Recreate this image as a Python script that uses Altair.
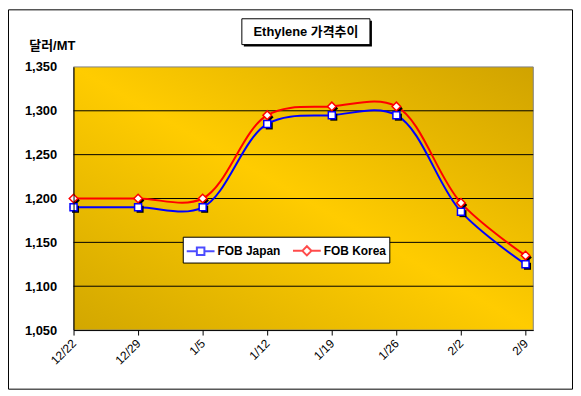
import json
import altair as alt
import pandas as pd

dates = ["12/22", "12/29", "1/5", "1/12", "1/19", "1/26", "2/2", "2/9"]
japan = [1190, 1190, 1190, 1285, 1295, 1295, 1185, 1125]
korea = [1200, 1200, 1200, 1295, 1305, 1305, 1195, 1135]
series = ["FOB Japan", "FOB Korea"]
colors = ["#0000FF", "#FF0000"]
y_ticks = [1050, 1100, 1150, 1200, 1250, 1300, 1350]
grid_vals = [1100, 1150, 1200, 1250, 1300]
title_text = "Ethylene 가격추이"
y_title = "달러/MT"

rows = []
for name, vals in zip(series, [japan, korea]):
    for i, v in enumerate(vals):
        rows.append({"idx": i, "date": dates[i], "series": name, "value": v})
df = pd.DataFrame(rows)

FONT = "Liberation Sans, Arial, Noto Sans CJK KR, sans-serif"

x_scale = alt.Scale(domain=[0, 7.12], nice=False, zero=False)
y_scale = alt.Scale(domain=[1050, 1350], nice=False, zero=False)

x_axis = alt.Axis(
    values=list(range(len(dates))),
    labelExpr=f"{json.dumps(dates)}[datum.value]",
    labelAngle=-45, labelAlign="right", labelBaseline="middle",
    labelPadding=6, labelFont=FONT, labelFontSize=12, labelColor="black",
    tickColor="black", tickSize=5, domainColor="black", grid=False,
    labelOverlap=False, zindex=1,
)
y_axis = alt.Axis(
    values=y_ticks, format=",.0f", ticks=False, labelPadding=17,
    labelFont=FONT, labelFontSize=13, labelFontWeight="bold", labelColor="black",
    domainColor="black", grid=False, zindex=1,
    title=y_title, titleAngle=0, titleX=-45, titleY=-18, titleAlign="left",
    titleBaseline="alphabetic", titleFont=FONT, titleFontSize=13,
    titleFontWeight="bold", titleColor="black",
)
x_enc = alt.X("idx:Q", scale=x_scale, axis=x_axis, title=None)
y_enc = alt.Y("value:Q", scale=y_scale, axis=y_axis, title=y_title)

tdf = pd.DataFrame({"t": [title_text]})

legend_paths = [
    "M-1.4,0H-0.38M0.38,0H1.4M-0.38,-0.38H0.38V0.38H-0.38Z",
    "M-1.4,0H-0.46M0.46,0H1.4M-0.46,0L0,-0.46L0.46,0L0,0.46Z",
]
leg = alt.Legend(
    title=None, orient="none", legendX=110, legendY=171, direction="horizontal",
    fillColor="white", strokeColor="black", padding=3, symbolSize=400,
    symbolOffset=4, labelOffset=6, columnPadding=8, symbolStrokeWidth=2,
    symbolFillColor="white", zindex=2,
    labelFont=FONT, labelFontSize=12, labelFontWeight="bold", labelColor="black",
)
# drawn first so the plot background hides its points; it only feeds the legend
legend_layer = (
    alt.Chart(df)
    .mark_point(filled=True, fill="white", strokeWidth=2)
    .encode(
        x=x_enc, y=y_enc,
        stroke=alt.Stroke("series:N", scale=alt.Scale(domain=series, range=colors), legend=leg),
        shape=alt.Shape("series:N", scale=alt.Scale(domain=series, range=legend_paths), legend=leg),
    )
)

gradient = {"gradient": "linear", "x1": 0, "y1": 1, "x2": 1, "y2": 0,
            "stops": [{"offset": 0, "color": "#D2A700"},
                      {"offset": 0.5, "color": "#FFCC00"},
                      {"offset": 1, "color": "#D0A300"}]}
bg = alt.Chart(tdf).mark_rect(fill=gradient, stroke="#808080", strokeWidth=1).encode(
    x=alt.value(0), x2=alt.value(463), y=alt.value(0), y2=alt.value(265))

grid = alt.Chart(pd.DataFrame({"value": grid_vals})).mark_rule(color="black", strokeWidth=1).encode(
    y=y_enc)

lines = alt.Chart(df).mark_line(interpolate="catmull-rom", strokeWidth=2).encode(
    x=x_enc, y=y_enc,
    color=alt.Color("series:N", scale=alt.Scale(domain=series, range=colors), legend=None),
    detail="series:N",
)

shapes = {"FOB Japan": ("square", 50), "FOB Korea": ("diamond", 75)}
layers = [legend_layer, bg, grid, lines]
for name, col in zip(series, colors):
    sh, sz = shapes[name]
    layers.append(
        alt.Chart(df).transform_filter(alt.datum.series == name)
        .mark_point(shape=sh, size=sz, filled=True, color="black", opacity=1, xOffset=2, yOffset=2)
        .encode(x=x_enc, y=y_enc)
    )
for name, col in zip(series, colors):
    sh, sz = shapes[name]
    layers.append(
        alt.Chart(df).transform_filter(alt.datum.series == name)
        .mark_point(shape=sh, size=sz, filled=True, fill="white", stroke=col, strokeWidth=1.5, opacity=1)
        .encode(x=x_enc, y=y_enc)
    )

title_shadow = alt.Chart(tdf).mark_rect(fill="black").encode(
    x=alt.value(171.5), x2=alt.value(300.5), y=alt.value(-46.5), y2=alt.value(-20.5))
title_box = alt.Chart(tdf).mark_rect(fill="white", stroke="black", strokeWidth=1).encode(
    x=alt.value(169.5), x2=alt.value(298.5), y=alt.value(-48.5), y2=alt.value(-22.5))
title_txt = alt.Chart(tdf).mark_text(
    font=FONT, fontSize=13, fontWeight="bold", align="center", baseline="middle", color="black"
).encode(x=alt.value(234), y=alt.value(-35), text="t:N")
border = alt.Chart(tdf).mark_rect(fill="transparent", stroke="black", strokeWidth=1).encode(
    x=alt.value(-65.5), x2=alt.value(502.5), y=alt.value(-57.5), y2=alt.value(324.5))

chart = alt.layer(*layers, title_shadow, title_box, title_txt, border).properties(
    width=463, height=265,
    padding={"left": 66, "top": 58, "right": 40, "bottom": 60},
    autosize=alt.AutoSizeParams(type="none"),
    background="white",
).configure_view(stroke=None)

chart.save("out.html", embed_options={"renderer": "svg", "actions": False})
